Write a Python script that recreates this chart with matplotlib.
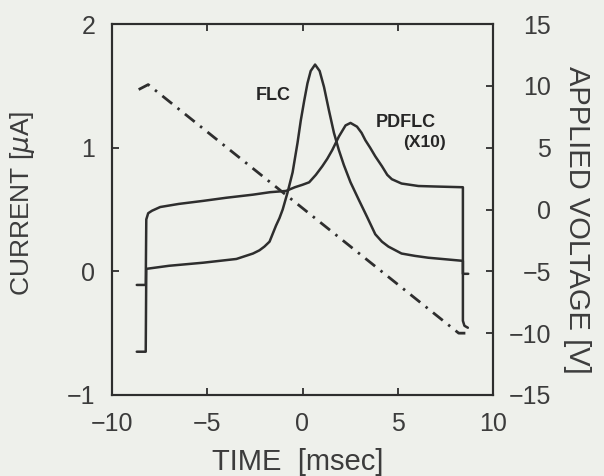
import matplotlib
matplotlib.use("Agg")
import matplotlib.pyplot as plt

# ---- data ----
flc_t = [-8.70, -8.23, -8.20, -7.00, -5.20, -3.47, -2.60, -2.26, -2.00, -1.73, -1.39, -1.21,
         -1.04, -0.78, -0.52, -0.26, -0.09, 0.09, 0.26, 0.43, 0.66, 0.90, 1.13, 1.39, 1.65,
         1.91, 2.17, 2.52, 2.95, 3.39, 3.82, 4.17, 4.51, 5.20, 5.90, 6.60, 7.47, 8.33,
         8.42, 8.42, 8.50, 8.68]
flc_i = [-0.65, -0.65, 0.02, 0.045, 0.07, 0.10, 0.144, 0.17, 0.20, 0.24, 0.37, 0.43,
         0.50, 0.64, 0.80, 1.04, 1.22, 1.38, 1.52, 1.62, 1.672, 1.62, 1.49, 1.30, 1.12,
         0.98, 0.86, 0.72, 0.58, 0.44, 0.30, 0.24, 0.20, 0.144, 0.125, 0.11, 0.098, 0.086,
         0.085, -0.40, -0.44, -0.456]

pdflc_t = [-8.70, -8.23, -8.20, -8.10, -7.90, -7.47, -6.50, -5.20, -4.00, -2.60, -1.70, -0.87,
           -0.40, 0.00, 0.35, 0.70, 1.04, 1.30, 1.56, 1.91, 2.26, 2.52, 2.86, 3.10, 3.30,
           3.55, 3.82, 4.17, 4.45, 4.69, 5.20, 6.08, 6.94, 8.42, 8.42, 8.70]
pdflc_i = [-0.11, -0.11, 0.42, 0.47, 0.49, 0.52, 0.545, 0.57, 0.595, 0.62, 0.64, 0.65,
           0.68, 0.70, 0.72, 0.78, 0.85, 0.91, 0.98, 1.09, 1.18, 1.20, 1.17, 1.12, 1.06,
           1.00, 0.93, 0.85, 0.78, 0.745, 0.71, 0.69, 0.686, 0.68, -0.02, -0.02]

volt_t = [-8.60, -8.10, 8.20, 8.55]
volt_v = [9.70, 10.10, -10.00, -10.00]

x_ticks = [-10, -5, 0, 5, 10]
i_ticks = [-1, 0, 1, 2]
v_ticks = [-15, -10, -5, 0, 5, 10, 15]

W, H = 604, 476
plt.rcParams['font.family'] = ['Liberation Sans', 'DejaVu Sans']
fig = plt.figure(figsize=(W / 100, H / 100), dpi=100)
bg = '#eef0eb'
fig.patch.set_facecolor(bg)

L, R, T, B = 112, 493, 24, 395
ax = fig.add_axes([L / W, 1 - B / H, (R - L) / W, (B - T) / H])
ax.set_facecolor(bg)
ink = '#2e2e2e'
txt = '#3c3c3c'

ax.plot(flc_t, flc_i, color=ink, lw=1.8, solid_joinstyle='round', solid_capstyle='round')
ax.plot(pdflc_t, pdflc_i, color=ink, lw=1.8, solid_joinstyle='round', solid_capstyle='round')
ax.set_xlim(-10, 10)
ax.set_ylim(-1, 2)
ax.set_xticks(x_ticks)
ax.set_yticks(i_ticks)
ax.tick_params(direction='in', length=5, width=1.3, colors=ink, labelcolor=txt,
               labelsize=18, pad=12, top=True)
for s in ax.spines.values():
    s.set_color(ink)
    s.set_linewidth(1.5)

ax2 = ax.twinx()
ax2.plot(volt_t, volt_v, color=ink, lw=2.0, dashes=(4.5, 2.5, 0.9, 2.5))
ax2.set_ylim(-15, 15)
ax2.set_yticks(v_ticks)
ax2.tick_params(direction='in', length=5, width=1.3, colors=ink, labelcolor=txt,
                labelsize=18, pad=42)
for lab in ax2.get_yticklabels():
    lab.set_horizontalalignment('right')
for s in ax2.spines.values():
    s.set_color(ink)
    s.set_linewidth(1.5)

lab_kw = dict(color='#262626', ha='center', va='center', fontweight='bold')
ax.text(-1.51, 1.42, 'FLC', fontsize=13, **lab_kw)
ax.text(5.42, 1.20, 'PDFLC', fontsize=13, **lab_kw)
ax.text(6.40, 1.04, '(X10)', fontsize=12.5, **lab_kw)

fig.text(23 / W, 1 - 203 / H, 'CURRENT [$\\mu$A]', rotation=90, fontsize=19,
         color=txt, ha='center', va='center')
fig.text(577 / W, 1 - 220 / H, 'APPLIED VOLTAGE [V]', rotation=-90, fontsize=21,
         color=txt, ha='center', va='center')
fig.text(298 / W, 1 - 462 / H, 'TIME  [msec]', fontsize=21, color=txt,
         ha='center', va='center')

fig.savefig('out.png', dpi=100, facecolor=bg)
